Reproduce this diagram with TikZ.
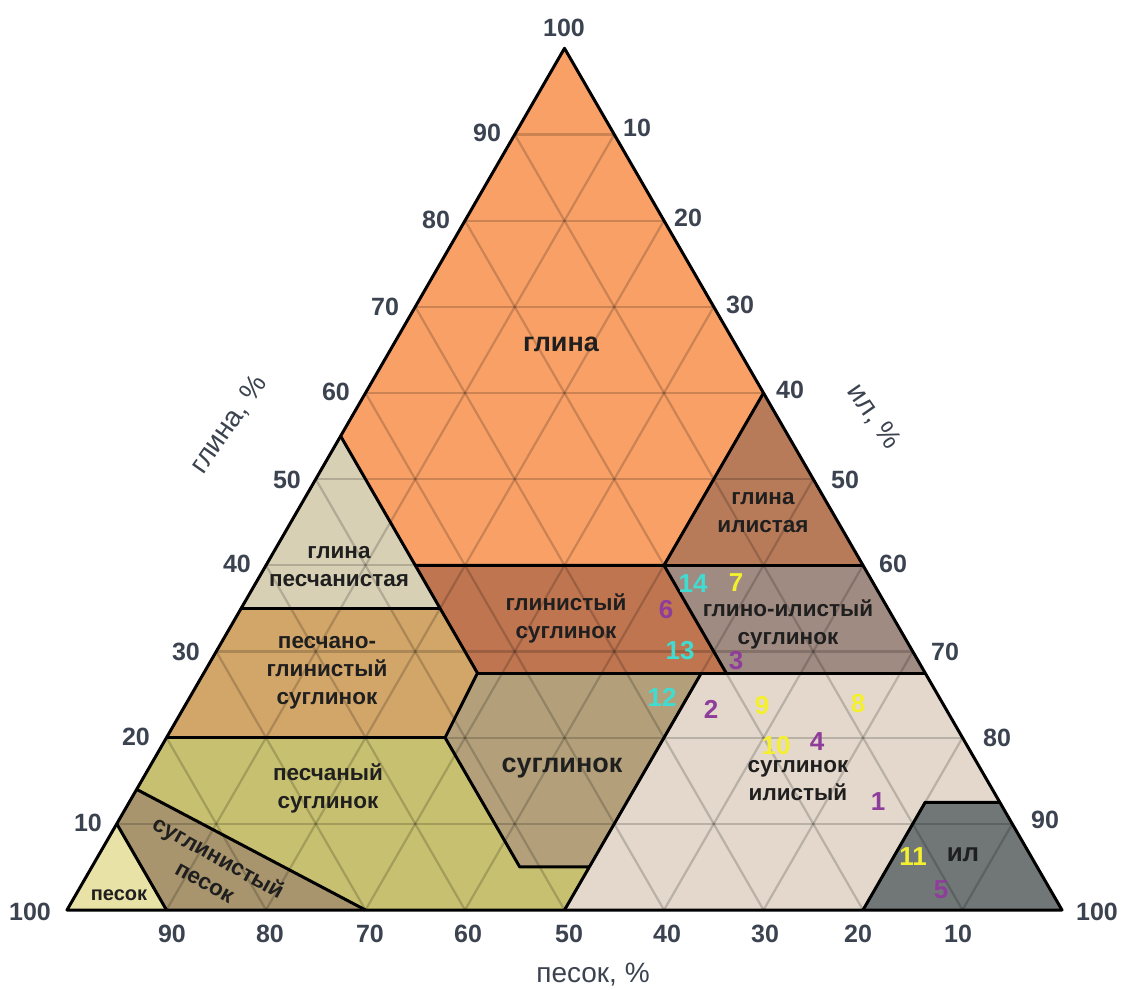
\documentclass[tikz,border=0pt]{standalone}
\usepackage{fontspec}
\setmainfont{Liberation Sans}
\definecolor{cClay}{HTML}{F9A066}
\definecolor{cSiltyClay}{HTML}{B87B5A}
\definecolor{cSandyClay}{HTML}{D8D0B5}
\definecolor{cClayLoam}{HTML}{BF7550}
\definecolor{cSiltyClayLoam}{HTML}{A08B82}
\definecolor{cSandyClayLoam}{HTML}{D2A569}
\definecolor{cLoam}{HTML}{B3A07B}
\definecolor{cSiltLoam}{HTML}{E3D8CB}
\definecolor{cSandyLoam}{HTML}{C7C070}
\definecolor{cLoamySand}{HTML}{A8956D}
\definecolor{cSand}{HTML}{E9E2A6}
\definecolor{cSilt}{HTML}{717777}
\definecolor{numcol}{HTML}{3C4350}
\definecolor{ptPurple}{HTML}{8E3D9A}
\definecolor{ptCyan}{HTML}{40DCD2}
\definecolor{ptYellow}{HTML}{F4F030}
\begin{document}
\begin{tikzpicture}[x=1pt,y=-1pt,
  region/.style={line width=3pt, draw=black, line join=round},
  gridline/.style={draw=black, opacity=0.18, line width=2.2pt},
  num/.style={font=\bfseries\fontsize{25}{25}\selectfont, text=numcol, inner sep=0pt},
  axtitle/.style={font=\fontsize{28}{28}\selectfont, text=numcol, inner sep=0pt},
  lbl/.style={font=\bfseries\fontsize{22.5}{28}\selectfont, text=black!88, align=center, inner sep=0pt},
  biglbl/.style={font=\bfseries\fontsize{27}{27}\selectfont, text=black!88, inner sep=0pt},
  pt/.style={font=\bfseries\fontsize{26}{26}\selectfont, inner sep=0pt}]
\useasboundingbox[fill=white] (0,0) rectangle (1125,990);
\begin{scope}[shift={(67,910)}, x={(9.95pt,0pt)}, y={(4.975pt,8.617pt)}]
  % regions, coordinates are (silt, clay)
  \fill[cClay] (0,100) -- (0,55) -- (15,40) -- (40,40) -- (40,60) -- cycle;
  \fill[cSandyClay] (0,55) -- (0,35) -- (20,35) -- cycle;
  \fill[cSiltyClay] (40,60) -- (40,40) -- (60,40) -- cycle;
  \fill[cClayLoam] (15,40) -- (40,40) -- (52.5,27.5) -- (27.5,27.5) -- cycle;
  \fill[cSiltyClayLoam] (40,40) -- (60,40) -- (72.5,27.5) -- (52.5,27.5) -- cycle;
  \fill[cSandyClayLoam] (0,35) -- (0,20) -- (28,20) -- (27.5,27.5) -- (20,35) -- cycle;
  \fill[cLoam] (27.5,27.5) -- (50,27.5) -- (50,5) -- (43,5) -- (28,20) -- cycle;
  \fill[cSandyLoam] (0,20) -- (28,20) -- (43,5) -- (50,5) -- (50,0) -- (30,0) -- (0,14) -- cycle;
  \fill[cLoamySand] (0,14) -- (30,0) -- (10,0) -- (0,10) -- cycle;
  \fill[cSand] (0,0) -- (10,0) -- (0,10) -- cycle;
  \fill[cSiltLoam] (50,27.5) -- (72.5,27.5) -- (87.5,12.5) -- (80,12.5) -- (80,0) -- (50,0) -- cycle;
  \fill[cSilt] (80,12.5) -- (87.5,12.5) -- (100,0) -- (80,0) -- cycle;
  % grid
  \foreach \k in {10,20,...,90}{
    \draw[gridline] (0,\k) -- ({100-\k},\k);
    \draw[gridline] (\k,0) -- (\k,{100-\k});
    \draw[gridline] (\k,0) -- (0,\k);
  }
  % boundaries
  \draw[region] (0,55) -- (15,40) -- (40,40) -- (40,60);
  \draw[region] (40,40) -- (60,40);
  \draw[region] (0,35) -- (20,35);
  \draw[region] (15,40) -- (27.5,27.5) -- (28,20) -- (43,5) -- (50,5) -- (50,0);
  \draw[region] (0,20) -- (28,20);
  \draw[region] (27.5,27.5) -- (72.5,27.5);
  \draw[region] (40,40) -- (52.5,27.5);
  \draw[region] (50,27.5) -- (50,5);
  \draw[region] (0,14) -- (30,0);
  \draw[region] (0,10) -- (10,0);
  \draw[region] (87.5,12.5) -- (80,12.5) -- (80,0);
  \draw[region] (0,0) -- (100,0) -- (0,100) -- cycle;
\end{scope}
% left axis numbers (clay)
\node[num] (l10) at (88,823) {10};
\node[num] (l20) at (136,737) {20};
\node[num] (l30) at (186,652) {30};
\node[num] (l40) at (237,564) {40};
\node[num] (l50) at (287,480) {50};
\node[num] (l60) at (336,392) {60};
\node[num] (l70) at (385,307) {70};
\node[num] (l80) at (436,220) {80};
\node[num] (l90) at (487,133) {90};
\node[num] (l100) at (564,28) {100};
% right axis numbers (silt)
\node[num] (r10) at (637,128) {10};
\node[num] (r20) at (688,218) {20};
\node[num] (r30) at (740,305) {30};
\node[num] (r40) at (790,390) {40};
\node[num] (r50) at (845,480) {50};
\node[num] (r60) at (893,564) {60};
\node[num] (r70) at (945,652) {70};
\node[num] (r80) at (997,738) {80};
\node[num] (r90) at (1045,820) {90};
\node[num] (r100) at (1097,912) {100};
% bottom axis numbers (sand)
\node[num] (b100) at (30,912) {100};
\node[num] (b90) at (172,934) {90};
\node[num] (b80) at (270,934) {80};
\node[num] (b70) at (370,934) {70};
\node[num] (b60) at (468,934) {60};
\node[num] (b50) at (569,934) {50};
\node[num] (b40) at (667,934) {40};
\node[num] (b30) at (765,934) {30};
\node[num] (b20) at (858,934) {20};
\node[num] (b10) at (958,934) {10};
% axis titles
\node[axtitle, rotate=55] (tclay) at (229,425) {глина, \%};
\node[axtitle, rotate=-55] (tsilt) at (874,417) {ил, \%};
\node[axtitle] (tsand) at (593,975) {песок, \%};
% region labels
\node[biglbl] (nClay) at (561,344) {глина};
\node[lbl] (nSiltyClay) at (763,513) {глина\\илистая};
\node[lbl] (nSandyClay) at (339,567) {глина\\песчанистая};
\node[lbl] (nClayLoam) at (566,618) {глинистый\\суглинок};
\node[lbl] (nSiltyClayLoam) at (788,624) {глино-илистый\\суглинок};
\node[lbl] (nSandyClayLoam) at (327,673) {песчано-\\глинистый\\суглинок};
\node[biglbl] (nLoam) at (562,768) {суглинок};
\node[lbl] (nSandyLoam) at (328,788) {песчаный\\суглинок};
\node[lbl] (nSiltLoam) at (798,781) {суглинок\\илистый};
\node[lbl, rotate=-29] (nLoamySand) at (212,869) {суглинистый\\песок};
\node[lbl, font=\bfseries\fontsize{20}{20}\selectfont] (nSand) at (119,895) {песок};
\node[lbl, font=\bfseries\fontsize{26}{26}\selectfont] (nSilt) at (963,855) {ил};
% sample points
\node[pt, text=ptCyan] (p14) at (693,584) {14};
\node[pt, text=ptYellow] (p7) at (736,583) {7};
\node[pt, text=ptPurple] (p6) at (666,610) {6};
\node[pt, text=ptCyan] (p13) at (680,651) {13};
\node[pt, text=ptPurple] (p3) at (736,661) {3};
\node[pt, text=ptCyan] (p12) at (662,697) {12};
\node[pt, text=ptPurple] (p2) at (711,709) {2};
\node[pt, text=ptYellow] (p9) at (762,706) {9};
\node[pt, text=ptYellow] (p8) at (858,704) {8};
\node[pt, text=ptYellow] (p10) at (776,746) {10};
\node[pt, text=ptPurple] (p4) at (817,742) {4};
\node[pt, text=ptPurple] (p1) at (878,802) {1};
\node[pt, text=ptYellow] (p11) at (913,857) {11};
\node[pt, text=ptPurple] (p5) at (941,890) {5};
\end{tikzpicture}
\end{document}
